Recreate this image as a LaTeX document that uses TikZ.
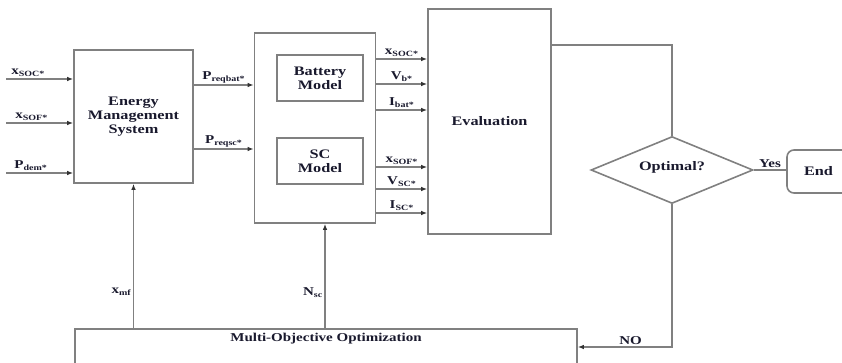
\documentclass[tikz,border=0pt]{standalone}
\usepackage{fontspec}
\setmainfont{Liberation Serif}[FakeStretch=1.25]
\usepackage{xcolor}
\usetikzlibrary{arrows.meta,
positioning,
shapes.geometric,
calc}

\definecolor{linegray}{RGB}{128,128,128}
\definecolor{txt}{RGB}{25,25,45}
\newcommand{\sigl}[2]{\textbf{#1}\textsubscript{\textbf{#2}}}

\begin{document}
\begin{tikzpicture}[
    x=1pt, y=-1pt,
    >=Latex,
    blk/.style={
        draw=linegray,
        line width=1.6pt,
        fill=white,
        align=center,
        text=txt,
        inner sep=0pt,
        font=\fontsize{13}{14}\selectfont\bfseries
    },
    dec/.style={
        blk,
        diamond,
        aspect=2.4,
        minimum width=162pt,
        minimum height=67pt
    },
    flow/.style={
        -{Latex[length=6pt,width=4.5pt,color=black!80]},
        draw=linegray,
        line width=1.4pt
    },
    link/.style={
        draw=linegray,
        line width=1.4pt
    },
    sig/.style={
        text=txt,
        inner sep=1.5pt,
        font=\fontsize{12}{14}\selectfont\bfseries
    }
]
\useasboundingbox (0,0) rectangle (842,363);

%-------------------------------------------------
% Blocks
%-------------------------------------------------

\node[blk,minimum width=119pt,minimum height=133pt] (ems) at (133.5,116.5)
{Energy\\Management\\System};
\node[blk,minimum width=121pt,minimum height=190pt] (mid) at (315,128) {};
\node[blk,minimum width=86pt,minimum height=46pt] (bat) at (320,78) {Battery\\Model};
\node[blk,minimum width=86pt,minimum height=46pt] (sc) at (320,161) {SC\\Model};
\node[blk,minimum width=123pt,minimum height=225pt] (eval) at (489.5,121.5) {Evaluation};
\node[dec] (opt) at (672,170) {\raisebox{8pt}{Optimal?}};
\node[blk,rounded corners=7pt,minimum width=63pt,minimum height=43pt] (endb) at (818.5,171.5) {End};
\node[blk,anchor=north,minimum width=502pt,text height=10pt,text depth=28pt,inner ysep=3pt,
font=\fontsize{12}{14}\selectfont\bfseries] (moo) at (326,328) {Multi-Objective Optimization};

%-------------------------------------------------
% Inputs of the energy management system
%-------------------------------------------------

\coordinate (in1) at (6,79);
\coordinate (in2) at (6,123);
\coordinate (in3) at (6,173);

\draw[flow] (in1) -- node[sig,above,pos=0.33]{\sigl{x}{SOC*}} (in1 -| ems.west);
\draw[flow] (in2) -- node[sig,above,pos=0.38]{\sigl{x}{SOF*}} (in2 -| ems.west);
\draw[flow] (in3) -- node[sig,above,pos=0.37]{\sigl{P}{dem*}} (in3 -| ems.west);

%-------------------------------------------------
% Power requests
%-------------------------------------------------

\draw[flow] (ems.east |- 0,85) -- node[sig,above]{\sigl{P}{reqbat*}} (mid.west |- 0,85);
\draw[flow] (ems.east |- 0,149) -- node[sig,above]{\sigl{P}{reqsc*}} (mid.west |- 0,149);

%-------------------------------------------------
% Model outputs
%-------------------------------------------------

\draw[flow] (mid.east |- 0,59) -- node[sig,above]{\sigl{x}{SOC*}} (eval.west |- 0,59);
\draw[flow] (mid.east |- 0,84) -- node[sig,above]{\sigl{V}{b*}} (eval.west |- 0,84);
\draw[flow] (mid.east |- 0,110) -- node[sig,above]{\sigl{I}{bat*}} (eval.west |- 0,110);
\draw[flow] (mid.east |- 0,167) -- node[sig,above]{\sigl{x}{SOF*}} (eval.west |- 0,167);
\draw[flow] (mid.east |- 0,189) -- node[sig,above]{\sigl{V}{SC*}} (eval.west |- 0,189);
\draw[flow] (mid.east |- 0,213) -- node[sig,above]{\sigl{I}{SC*}} (eval.west |- 0,213);

%-------------------------------------------------
% Decision and feedback
%-------------------------------------------------

\draw[link] ([yshift=-37pt]eval.north east) -| (opt.north);
\draw[link] (opt.east) -- node[sig,above]{Yes} (opt.east -| endb.west);
\draw[flow] (opt.south) |- node[sig,above,pos=0.72]{NO} ([yshift=-19pt]moo.north east);

\coordinate (nsc) at ([xshift=10pt]mid.south);
\draw[flow] (moo.north -| ems.south) -- node[sig,left,pos=0.25]{\sigl{x}{mf}} (ems.south);
\draw[flow] (moo.north -| nsc) -- node[sig,left,pos=0.34]{\sigl{N}{sc}} (nsc);

\end{tikzpicture}
\end{document}
